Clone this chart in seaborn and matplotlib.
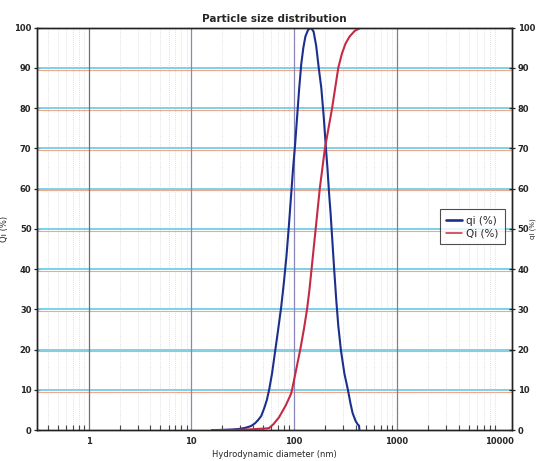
import numpy as np
import pandas as pd
import seaborn as sns
import matplotlib.pyplot as plt
from matplotlib.ticker import LogLocator, NullFormatter, FixedLocator

# values: log10 of diameter (nm) and percent
qi_logd = [1.20, 1.30, 1.40, 1.47, 1.53, 1.58, 1.62, 1.65, 1.68, 1.71, 1.735, 1.757,
           1.785, 1.815, 1.845, 1.874, 1.90, 1.925, 1.95, 1.97, 1.99, 2.01, 2.03, 2.05,
           2.07, 2.09, 2.11, 2.135, 2.165, 2.19, 2.215, 2.24, 2.265, 2.288, 2.31, 2.325,
           2.34, 2.355, 2.37, 2.39, 2.41, 2.43, 2.456, 2.49, 2.524, 2.55, 2.57, 2.60,
           2.62, 2.632, 2.636]
qi_vals = [0, 0.05, 0.15, 0.3, 0.6, 1.0, 1.7, 2.5, 3.5, 5.5, 7.5, 10,
           14, 19.5, 25, 30.5, 36.5, 43, 51, 58, 65, 71, 78, 85,
           91, 95, 97.8, 99.4, 100, 99, 95.5, 90, 85, 78, 70, 65,
           59, 54, 48, 40, 32.5, 26, 19.8, 14, 10, 6.5, 4.2, 2.2,
           1.4, 1.1, 0]

Qi_logd = [1.21, 1.40, 1.55, 1.65, 1.72, 1.757, 1.80, 1.854, 1.92, 1.97, 1.98, 2.02,
           2.06, 2.095, 2.126, 2.15, 2.17, 2.19, 2.21, 2.23, 2.25, 2.275, 2.30, 2.335,
           2.37, 2.40, 2.43, 2.465, 2.50, 2.54, 2.59, 2.65]
Qi_vals = [0, 0.05, 0.15, 0.3, 0.4, 0.5, 1.5, 3.2, 6.2, 9, 10, 15,
           20, 25, 30, 35, 40, 45, 50, 55, 60, 65, 70, 75,
           80, 85, 90, 93.5, 96, 97.8, 99.2, 100]

qi_d = [10 ** v for v in qi_logd]
Qi_d = [10 ** v for v in Qi_logd]

df = pd.concat([
    pd.DataFrame({'d': qi_d, 'pct': qi_vals, 'series': 'qi (%)'}),
    pd.DataFrame({'d': Qi_d, 'pct': Qi_vals, 'series': 'Qi (%)'}),
])

sns.set_style('white')
plt.rcParams['font.family'] = ['Liberation Sans Narrow', 'DejaVu Sans']

fig = plt.figure(figsize=(5.37, 4.61), dpi=100)
ax = fig.add_axes([0.069, 0.067, 0.885, 0.873])

# horizontal grid: cyan line with a faint orange shadow (scan look)
for y in range(10, 100, 10):
    ax.axhline(y, color='#6fd0e8', lw=1.3, zorder=1)
    ax.axhline(y - 0.45, color='#f4a58a', lw=0.8, zorder=1)

ax.set_xscale('log')
ax.set_xlim(0.315, 13300)
ax.set_ylim(0, 100)

# vertical grid
for x, c in [(1, '#707070'), (10, '#8a86b8'), (100, '#8a86b8'), (1000, '#808080')]:
    ax.axvline(x, color=c, lw=0.9, zorder=1)
for dec in [0.1, 1, 10, 100, 1000]:
    for m in range(2, 10):
        ax.axvline(dec * m, color='#c4c4c4', lw=0.5, ls=(0, (1, 2)), zorder=1)

sns.lineplot(data=df, x='d', y='pct', hue='series', sort=False,
             palette={'qi (%)': '#1b2f8c', 'Qi (%)': '#c42a45'},
             ax=ax, zorder=3)
for line, lw in zip(ax.get_lines()[-2:], [1.9, 1.1]):
    line.set_linewidth(lw)

ax.axhline(100, color='#333333', lw=1.4, zorder=4)

ax.set_title('Particle size distribution', fontsize=7.5, fontweight='bold', pad=4)
ax.set_xlabel('Hydrodynamic diameter (nm)', fontsize=6, labelpad=3)
ax.set_ylabel('Qi (%)', fontsize=6, labelpad=4)

ax.xaxis.set_major_locator(FixedLocator([1, 10, 100, 1000, 10000]))
ax.set_xticklabels(['1', '10', '100', '1000', '10000'], fontweight='bold')
ax.xaxis.set_minor_locator(LogLocator(base=10, subs=np.arange(2, 10)))
ax.xaxis.set_minor_formatter(NullFormatter())
ax.tick_params(axis='x', which='major', labelsize=6, length=0, pad=5)
ax.tick_params(axis='x', which='minor', direction='in', length=3.5, width=0.8, color='#222222',
               bottom=True)
ax.set_yticks(range(0, 101, 10))
ax.tick_params(axis='y', labelsize=6, direction='inout', length=4, width=0.9, pad=2)
for t in ax.get_yticklabels():
    t.set_fontweight('bold')

ax2 = ax.twinx()
ax2.set_ylim(0, 100)
ax2.set_yticks(range(0, 101, 10))
ax2.tick_params(axis='y', labelsize=6, direction='inout', length=4, width=0.9, pad=2)
for t in ax2.get_yticklabels():
    t.set_fontweight('bold')
ax2.set_ylabel('qi (%)', fontsize=5)
ax2.yaxis.set_label_coords(1.037, 0.5)

for a in (ax, ax2):
    for s in a.spines.values():
        s.set_color('#222222')
        s.set_linewidth(1.0)

leg = ax.legend(loc='center right', bbox_to_anchor=(0.995, 0.505), fontsize=7.5,
                frameon=True, fancybox=False, edgecolor='#222222', handlelength=1.5,
                borderpad=0.6, labelspacing=0.25, handletextpad=0.4)
leg.get_frame().set_linewidth(0.8)
leg.set_title(None)

fig.savefig('out.png', dpi=100)
